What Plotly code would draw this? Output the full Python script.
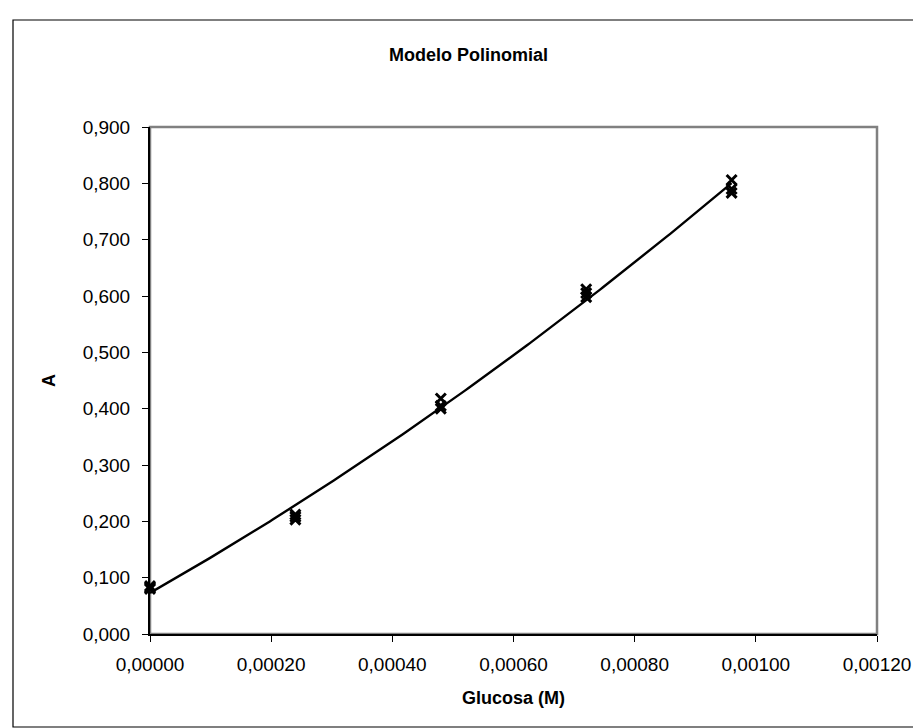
import numpy as np
import plotly.graph_objects as go

# Data (triplicate readings)
glucosa = [0.0, 0.0, 0.0,
           0.00024, 0.00024, 0.00024,
           0.00048, 0.00048, 0.00048,
           0.00072, 0.00072, 0.00072,
           0.00096, 0.00096, 0.00096]
absorb = [0.080, 0.085, 0.082,
          0.203, 0.208, 0.212,
          0.400, 0.405, 0.418,
          0.598, 0.605, 0.612,
          0.783, 0.790, 0.806]
x_ticks = [0.0, 0.0002, 0.0004, 0.0006, 0.0008, 0.0010, 0.0012]
y_ticks = [0.0, 0.1, 0.2, 0.3, 0.4, 0.5, 0.6, 0.7, 0.8, 0.9]

# Polynomial (2nd order) trendline fitted to the data
coef = np.polyfit(glucosa, absorb, 2)
xf = np.linspace(min(glucosa), max(glucosa), 200)
yf = np.polyval(coef, xf)

W, H = 921, 728
L, R, T, B = 142, 869, 119, 626
pw, ph = R - L, B - T

def px(p):
    return (p - L) / pw

def py(p):
    return (B - p) / ph

fig = go.Figure()
fig.add_trace(go.Scatter(x=xf, y=yf, mode="lines",
                         line=dict(color="black", width=2.4),
                         hoverinfo="skip", showlegend=False,
                         cliponaxis=False))
fig.add_trace(go.Scatter(x=glucosa, y=absorb, mode="markers",
                         marker=dict(symbol="x-thin", size=10,
                                     line=dict(color="black", width=3),
                                     color="black"),
                         showlegend=False, cliponaxis=False))

font = "Liberation Sans, Arial, sans-serif"
fig.update_layout(
    width=W, height=H,
    margin=dict(l=L, r=W - R, t=T, b=H - B),
    paper_bgcolor="white", plot_bgcolor="white",
    separators=",.",
    font=dict(family=font, size=19, color="black"),
    title=dict(text="<b>Modelo Polinomial</b>", x=0.5, xanchor="center",
               y=1 - 47 / H, yanchor="middle",
               font=dict(family=font, size=18, color="black")),
    xaxis=dict(range=[0, 0.0012], tickvals=x_ticks, tickformat=".5f",
               showgrid=False, zeroline=False, showline=True,
               linecolor="black", linewidth=2, ticks="outside",
               ticklen=6, tickwidth=1, tickcolor="black",
               ticklabelstandoff=6,
               title=dict(text="<b>Glucosa (M)</b>", standoff=18,
                          font=dict(size=18)),
               tickfont=dict(size=19)),
    yaxis=dict(range=[0, 0.9], tickvals=y_ticks, tickformat=".3f",
               showgrid=False, zeroline=False, showline=True,
               linecolor="black", linewidth=2, ticks="outside",
               ticklen=6, tickwidth=1, tickcolor="black",
               ticklabelstandoff=8,
               title=dict(text="<b>A</b>", standoff=22,
                          font=dict(size=18)),
               tickfont=dict(size=19)),
    shapes=[
        dict(type="rect", xref="paper", yref="paper",
             x0=0, x1=1, y0=0, y1=1,
             line=dict(color="#808080", width=2.5), layer="below"),
        dict(type="rect", xref="paper", yref="paper",
             x0=px(5), x1=px(916), y0=py(719), y1=py(12),
             line=dict(color="black", width=1.2), layer="below"),
    ],
)

fig.write_html("out.html")
